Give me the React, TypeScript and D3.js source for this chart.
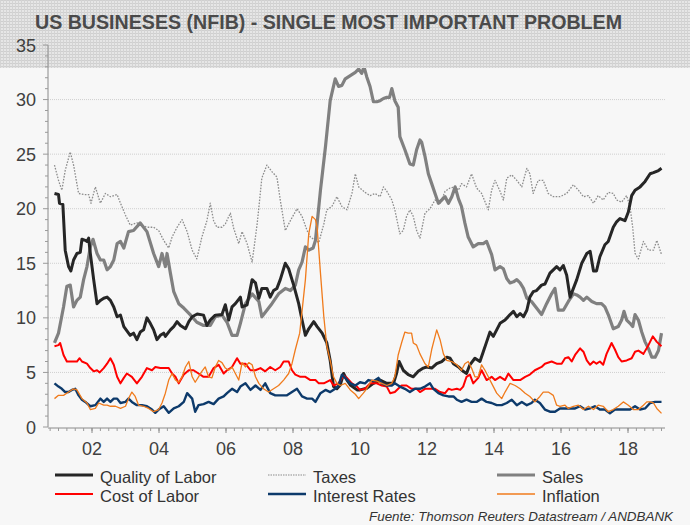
import React from "react";
import * as d3 from "d3";

type P = [number, number];

const qualityOfLabor: P[] = [
  [2000.88, 21.4], [2001.0, 21.3], [2001.03, 20.5], [2001.13, 20.4], [2001.2, 16.2], [2001.3, 14.7], [2001.37, 14.3],
  [2001.45, 15.3], [2001.55, 15.9], [2001.65, 16.0], [2001.7, 17.2], [2001.8, 17.1], [2001.85, 17.0], [2001.9, 17.3],
  [2001.95, 15.9], [2002.05, 13.5], [2002.15, 11.3], [2002.25, 11.6], [2002.35, 11.8], [2002.45, 11.9], [2002.55, 11.6],
  [2002.65, 11.0], [2002.75, 10.1], [2002.85, 10.25], [2002.95, 9.2], [2003.14, 8.4], [2003.24, 8.6], [2003.34, 8.0],
  [2003.44, 8.7], [2003.54, 8.9], [2003.64, 10.0], [2003.74, 9.5], [2003.84, 8.9], [2003.94, 8.0], [2004.04, 8.4],
  [2004.14, 8.6], [2004.19, 8.3], [2004.34, 8.9], [2004.44, 9.2], [2004.54, 9.65], [2004.64, 9.3], [2004.79, 9.0],
  [2004.89, 9.65], [2004.99, 10.1], [2005.14, 10.35], [2005.33, 10.25], [2005.43, 9.3], [2005.53, 9.8], [2005.68, 10.25],
  [2005.88, 10.3], [2005.98, 11.2], [2006.08, 9.8], [2006.18, 11.0], [2006.28, 11.3], [2006.43, 11.9], [2006.48, 11.0],
  [2006.63, 11.2], [2006.78, 13.5], [2006.88, 13.2], [2006.98, 11.8], [2007.07, 12.7], [2007.22, 12.7], [2007.32, 11.9],
  [2007.42, 12.5], [2007.52, 12.7], [2007.62, 13.5], [2007.77, 15.0], [2007.87, 14.5], [2008.02, 13.0], [2008.17, 11.3],
  [2008.27, 9.8], [2008.37, 8.4], [2008.47, 9.0], [2008.62, 9.65], [2008.72, 9.2], [2008.87, 8.6], [2009.01, 7.7],
  [2009.11, 6.1], [2009.21, 3.7], [2009.31, 3.5], [2009.41, 3.85], [2009.51, 4.9], [2009.61, 4.3], [2009.71, 3.85],
  [2009.91, 3.4], [2010.0, 3.4], [2010.2, 3.55], [2010.4, 4.0], [2010.6, 4.3], [2010.8, 4.0], [2011.0, 4.0],
  [2011.09, 4.9], [2011.17, 6.0], [2011.29, 5.2], [2011.44, 4.8], [2011.59, 4.6], [2011.74, 5.1], [2011.89, 5.4],
  [2011.99, 5.5], [2012.14, 5.4], [2012.29, 5.8], [2012.44, 6.0], [2012.59, 6.4], [2012.69, 6.3], [2012.79, 5.8],
  [2012.94, 5.5], [2013.08, 5.1], [2013.18, 4.9], [2013.28, 5.7], [2013.43, 6.3], [2013.58, 6.0], [2013.68, 6.9],
  [2013.78, 7.8], [2013.88, 8.7], [2013.98, 8.3], [2014.08, 8.9], [2014.18, 9.5], [2014.33, 9.8], [2014.48, 10.3],
  [2014.58, 10.6], [2014.68, 10.1], [2014.78, 10.4], [2014.88, 10.1], [2014.98, 10.7], [2015.07, 11.9], [2015.17, 12.4],
  [2015.27, 12.5], [2015.42, 13.0], [2015.52, 13.1], [2015.67, 14.1], [2015.77, 14.4], [2015.87, 14.7], [2015.97, 14.4],
  [2016.07, 14.8], [2016.17, 13.9], [2016.27, 11.9], [2016.47, 13.5], [2016.62, 15.0], [2016.77, 15.9], [2016.87, 16.1],
  [2016.97, 14.3], [2017.06, 14.3], [2017.16, 15.6], [2017.31, 16.7], [2017.41, 17.0], [2017.56, 18.3], [2017.66, 18.8],
  [2017.76, 19.1], [2017.91, 18.9], [2018.01, 19.7], [2018.11, 21.2], [2018.21, 21.7], [2018.36, 22.0], [2018.51, 22.5],
  [2018.66, 23.2], [2018.76, 23.3], [2018.91, 23.5], [2019.0, 23.7],
];

const taxes: P[] = [
  [2000.88, 24.0], [2001.0, 22.6], [2001.1, 21.7], [2001.2, 23.5], [2001.35, 25.2], [2001.45, 24.0], [2001.6, 21.4],
  [2001.75, 21.3], [2001.9, 21.3], [2001.97, 20.5], [2002.1, 22.0], [2002.25, 20.5], [2002.4, 21.4], [2002.55, 21.1],
  [2002.75, 21.3], [2002.85, 20.5], [2003.0, 19.4], [2003.14, 18.5], [2003.34, 18.7], [2003.49, 18.5], [2003.64, 18.3],
  [2003.84, 18.3], [2003.99, 18.0], [2004.14, 17.1], [2004.29, 16.4], [2004.39, 17.4], [2004.54, 18.3], [2004.69, 19.0],
  [2004.84, 17.9], [2004.99, 16.2], [2005.13, 15.4], [2005.28, 17.4], [2005.43, 18.9], [2005.53, 20.5], [2005.63, 18.9],
  [2005.73, 18.3], [2005.88, 18.3], [2005.98, 18.6], [2006.13, 19.6], [2006.23, 18.2], [2006.38, 16.8], [2006.48, 17.9],
  [2006.63, 16.8], [2006.78, 15.1], [2006.93, 18.6], [2007.07, 22.8], [2007.22, 24.0], [2007.37, 23.4], [2007.52, 22.9],
  [2007.62, 20.8], [2007.77, 18.0], [2007.92, 18.9], [2008.12, 20.0], [2008.27, 19.3], [2008.42, 18.0], [2008.52, 17.4],
  [2008.67, 17.1], [2008.77, 16.9], [2008.92, 18.6], [2009.01, 19.9], [2009.16, 20.2], [2009.31, 21.1], [2009.46, 20.2],
  [2009.61, 19.9], [2009.76, 21.4], [2009.86, 23.2], [2009.96, 22.0], [2010.15, 21.5], [2010.3, 21.2], [2010.45, 21.4],
  [2010.6, 21.1], [2010.7, 22.0], [2010.8, 21.6], [2010.95, 20.8], [2011.04, 19.9], [2011.19, 17.7], [2011.29, 18.0],
  [2011.39, 19.3], [2011.49, 19.9], [2011.59, 19.3], [2011.69, 18.0], [2011.79, 17.3], [2011.94, 19.6], [2012.09, 20.0],
  [2012.24, 20.8], [2012.39, 20.5], [2012.54, 21.6], [2012.69, 21.9], [2012.84, 22.0], [2012.94, 21.7], [2013.03, 22.3],
  [2013.18, 22.0], [2013.33, 23.2], [2013.48, 21.9], [2013.63, 21.4], [2013.83, 19.9], [2013.93, 21.7], [2014.03, 22.6],
  [2014.18, 21.6], [2014.28, 20.8], [2014.38, 22.8], [2014.53, 23.1], [2014.68, 22.6], [2014.83, 22.0], [2014.98, 23.7],
  [2015.07, 23.2], [2015.17, 21.4], [2015.32, 22.6], [2015.47, 22.6], [2015.62, 21.4], [2015.77, 21.1], [2015.97, 21.1],
  [2016.17, 21.4], [2016.37, 22.2], [2016.52, 21.7], [2016.67, 21.1], [2016.82, 21.2], [2016.97, 20.5], [2017.11, 21.2],
  [2017.26, 20.8], [2017.41, 21.5], [2017.56, 21.4], [2017.66, 20.8], [2017.81, 20.6], [2017.96, 21.2], [2018.06, 20.2],
  [2018.14, 18.3], [2018.21, 15.9], [2018.31, 15.4], [2018.46, 17.0], [2018.61, 16.2], [2018.76, 16.2], [2018.86, 17.1],
  [2019.0, 15.8],
];

const sales: P[] = [
  [2000.88, 7.7], [2001.0, 8.6], [2001.15, 11.0], [2001.25, 12.9], [2001.35, 13.0], [2001.45, 11.0], [2001.55, 11.6],
  [2001.65, 11.9], [2001.75, 13.5], [2001.85, 14.7], [2001.95, 16.5], [2002.03, 17.2], [2002.15, 15.9], [2002.25, 15.3],
  [2002.35, 15.3], [2002.45, 14.4], [2002.55, 14.7], [2002.65, 15.3], [2002.75, 16.8], [2002.85, 17.0], [2002.95, 16.4],
  [2003.09, 17.9], [2003.24, 18.0], [2003.44, 18.7], [2003.64, 17.9], [2003.84, 15.9], [2003.99, 14.7], [2004.09, 15.9],
  [2004.19, 14.7], [2004.24, 15.9], [2004.34, 14.1], [2004.44, 12.4], [2004.59, 11.3], [2004.74, 10.9], [2004.93, 10.3],
  [2005.13, 9.6], [2005.33, 9.3], [2005.53, 9.3], [2005.68, 10.1], [2005.88, 10.25], [2006.03, 9.6], [2006.18, 8.4],
  [2006.33, 8.4], [2006.43, 9.5], [2006.58, 11.3], [2006.78, 12.2], [2006.98, 11.5], [2007.07, 10.1], [2007.22, 10.7],
  [2007.37, 11.3], [2007.57, 12.2], [2007.77, 12.7], [2007.92, 12.5], [2008.07, 13.0], [2008.17, 14.4], [2008.27, 15.1],
  [2008.37, 16.5], [2008.47, 16.2], [2008.6, 16.4], [2008.67, 17.1], [2008.82, 21.7], [2008.97, 25.7], [2009.11, 29.9],
  [2009.26, 31.9], [2009.36, 31.2], [2009.46, 31.3], [2009.56, 31.9], [2009.71, 32.2], [2009.86, 32.5], [2009.96, 32.8],
  [2010.05, 32.4], [2010.12, 33.0], [2010.2, 32.1], [2010.3, 31.2], [2010.4, 29.8], [2010.5, 29.8], [2010.6, 29.9],
  [2010.7, 30.1], [2010.8, 30.2], [2010.88, 30.2], [2010.95, 31.0], [2011.04, 29.9], [2011.14, 29.3], [2011.19, 26.6],
  [2011.34, 25.4], [2011.49, 24.1], [2011.59, 24.0], [2011.69, 25.4], [2011.79, 26.3], [2011.84, 26.1], [2011.94, 24.8],
  [2012.04, 23.2], [2012.14, 22.3], [2012.24, 21.4], [2012.34, 20.5], [2012.44, 20.8], [2012.54, 21.1], [2012.64, 20.5],
  [2012.74, 21.1], [2012.84, 22.0], [2012.94, 20.9], [2013.03, 20.2], [2013.13, 18.7], [2013.23, 17.4], [2013.38, 16.5],
  [2013.53, 16.8], [2013.68, 16.8], [2013.78, 17.0], [2013.93, 15.8], [2014.03, 14.4], [2014.18, 14.7], [2014.28, 14.5],
  [2014.38, 13.6], [2014.48, 13.2], [2014.58, 13.3], [2014.68, 13.5], [2014.78, 13.2], [2014.88, 12.7], [2014.98, 11.8],
  [2015.12, 11.5], [2015.27, 10.9], [2015.42, 10.3], [2015.57, 11.3], [2015.72, 12.2], [2015.82, 12.7], [2015.92, 10.7],
  [2016.07, 10.7], [2016.22, 11.5], [2016.37, 12.2], [2016.47, 12.1], [2016.57, 11.9], [2016.67, 11.6], [2016.77, 11.9],
  [2016.92, 11.5], [2017.06, 11.3], [2017.21, 11.3], [2017.31, 11.0], [2017.41, 10.3], [2017.56, 9.0], [2017.71, 9.2],
  [2017.81, 9.8], [2017.88, 10.6], [2017.96, 9.8], [2018.06, 9.5], [2018.14, 9.2], [2018.21, 10.3], [2018.31, 9.8],
  [2018.41, 8.7], [2018.51, 7.8], [2018.61, 7.2], [2018.71, 6.4], [2018.81, 6.4], [2018.91, 7.0], [2019.0, 8.6],
];

const costOfLabor: P[] = [
  [2000.88, 7.4], [2001.0, 7.5], [2001.05, 7.7], [2001.15, 6.6], [2001.25, 6.0], [2001.4, 6.0], [2001.55, 6.0],
  [2001.63, 6.3], [2001.7, 6.0], [2001.85, 5.8], [2001.95, 5.4], [2002.05, 5.1], [2002.15, 5.2], [2002.23, 5.0],
  [2002.35, 5.4], [2002.45, 5.8], [2002.55, 6.3], [2002.65, 5.7], [2002.75, 4.6], [2002.85, 4.0], [2002.95, 4.5],
  [2003.04, 4.9], [2003.19, 4.6], [2003.34, 4.0], [2003.49, 4.6], [2003.64, 5.4], [2003.79, 5.2], [2003.89, 5.5],
  [2004.04, 5.4], [2004.19, 5.4], [2004.29, 5.4], [2004.39, 4.9], [2004.49, 4.6], [2004.59, 4.0], [2004.74, 4.8],
  [2004.89, 5.2], [2005.03, 5.2], [2005.18, 4.9], [2005.33, 4.6], [2005.48, 4.6], [2005.63, 5.4], [2005.78, 5.7],
  [2005.93, 4.9], [2006.03, 5.2], [2006.18, 5.5], [2006.33, 6.3], [2006.43, 5.8], [2006.58, 5.8], [2006.73, 5.2],
  [2006.88, 5.2], [2007.03, 5.4], [2007.17, 5.1], [2007.32, 5.5], [2007.47, 5.2], [2007.62, 5.5], [2007.72, 6.0],
  [2007.87, 6.0], [2007.97, 5.2], [2008.07, 4.8], [2008.22, 4.6], [2008.37, 4.6], [2008.52, 4.3], [2008.67, 4.3],
  [2008.77, 4.0], [2008.92, 4.0], [2009.11, 4.3], [2009.21, 3.8], [2009.36, 4.0], [2009.51, 4.7], [2009.61, 4.5],
  [2009.76, 4.0], [2009.91, 3.7], [2010.0, 3.4], [2010.15, 3.5], [2010.3, 4.0], [2010.5, 4.0], [2010.65, 3.8],
  [2010.8, 3.7], [2010.9, 3.1], [2011.04, 3.2], [2011.14, 3.5], [2011.24, 3.8], [2011.39, 3.8], [2011.54, 3.5],
  [2011.69, 3.5], [2011.79, 3.2], [2011.94, 3.5], [2012.09, 3.5], [2012.24, 3.5], [2012.39, 3.2], [2012.54, 3.1],
  [2012.64, 3.5], [2012.74, 3.4], [2012.89, 3.5], [2012.99, 3.4], [2013.08, 3.7], [2013.18, 4.6], [2013.28, 4.8],
  [2013.38, 4.0], [2013.53, 4.5], [2013.63, 5.2], [2013.78, 4.3], [2013.93, 4.6], [2014.03, 4.3], [2014.18, 4.6],
  [2014.33, 4.3], [2014.43, 4.9], [2014.58, 4.3], [2014.78, 4.3], [2014.93, 4.6], [2015.07, 4.8], [2015.22, 5.2],
  [2015.42, 5.5], [2015.52, 5.8], [2015.72, 6.0], [2015.87, 5.8], [2016.02, 5.8], [2016.12, 6.3], [2016.22, 6.4],
  [2016.32, 6.0], [2016.42, 6.6], [2016.57, 7.2], [2016.67, 6.9], [2016.77, 6.1], [2016.87, 5.7], [2016.97, 6.0],
  [2017.06, 5.8], [2017.16, 6.0], [2017.26, 5.7], [2017.36, 6.7], [2017.51, 7.7], [2017.61, 7.1], [2017.71, 6.4],
  [2017.81, 6.0], [2017.96, 6.1], [2018.11, 6.3], [2018.21, 6.9], [2018.31, 7.0], [2018.46, 6.7], [2018.61, 7.5],
  [2018.74, 8.3], [2018.86, 7.8], [2019.0, 7.4],
];

const interestRates: P[] = [
  [2000.88, 4.0], [2001.0, 3.7], [2001.1, 3.5], [2001.2, 3.2], [2001.3, 3.2], [2001.4, 3.4], [2001.5, 3.5],
  [2001.6, 2.9], [2001.7, 2.5], [2001.8, 2.3], [2001.95, 1.9], [2002.1, 2.0], [2002.25, 2.6], [2002.35, 2.3],
  [2002.45, 2.6], [2002.55, 2.3], [2002.65, 2.6], [2002.75, 2.6], [2002.85, 2.2], [2003.0, 2.3], [2003.09, 2.6],
  [2003.19, 2.3], [2003.34, 2.0], [2003.49, 2.0], [2003.64, 1.9], [2003.79, 1.6], [2003.89, 1.3], [2003.99, 1.6],
  [2004.14, 1.9], [2004.29, 1.3], [2004.44, 1.7], [2004.59, 1.9], [2004.74, 2.3], [2004.84, 3.1], [2004.99, 2.6],
  [2005.08, 1.4], [2005.18, 2.0], [2005.33, 2.1], [2005.48, 2.3], [2005.63, 2.1], [2005.78, 2.6], [2005.93, 2.8],
  [2006.03, 3.1], [2006.18, 3.5], [2006.33, 3.2], [2006.43, 3.7], [2006.58, 4.0], [2006.73, 3.4], [2006.88, 3.8],
  [2007.03, 3.4], [2007.17, 4.0], [2007.32, 3.1], [2007.47, 2.9], [2007.62, 2.9], [2007.82, 2.9], [2007.97, 3.2],
  [2008.12, 3.5], [2008.27, 2.8], [2008.42, 2.6], [2008.57, 2.6], [2008.67, 2.3], [2008.82, 3.1], [2008.97, 3.4],
  [2009.11, 3.2], [2009.26, 3.5], [2009.36, 3.8], [2009.46, 4.8], [2009.56, 4.5], [2009.71, 4.0], [2009.86, 3.8],
  [2010.0, 4.1], [2010.15, 4.0], [2010.25, 4.3], [2010.4, 4.2], [2010.55, 4.5], [2010.65, 4.0], [2010.8, 3.8],
  [2010.95, 3.8], [2011.04, 4.0], [2011.19, 3.7], [2011.34, 3.5], [2011.49, 3.2], [2011.64, 3.5], [2011.79, 3.5],
  [2011.94, 3.7], [2012.09, 4.0], [2012.19, 3.5], [2012.34, 3.1], [2012.49, 2.9], [2012.64, 2.8], [2012.79, 2.8],
  [2012.89, 2.5], [2013.03, 2.3], [2013.18, 2.5], [2013.33, 2.3], [2013.48, 2.3], [2013.63, 2.6], [2013.78, 2.3],
  [2013.93, 2.2], [2014.08, 2.0], [2014.23, 2.0], [2014.38, 2.2], [2014.53, 2.5], [2014.68, 2.0], [2014.83, 2.3],
  [2014.98, 2.0], [2015.12, 2.2], [2015.22, 2.5], [2015.37, 2.2], [2015.52, 1.6], [2015.67, 1.4], [2015.82, 1.4],
  [2015.97, 1.7], [2016.12, 1.7], [2016.27, 1.7], [2016.42, 1.7], [2016.57, 1.9], [2016.72, 1.6], [2016.87, 1.7],
  [2017.01, 1.9], [2017.16, 1.6], [2017.31, 1.6], [2017.46, 1.25], [2017.61, 1.6], [2017.76, 1.6], [2017.91, 1.6],
  [2018.06, 1.6], [2018.21, 1.9], [2018.36, 1.6], [2018.51, 1.7], [2018.66, 2.2], [2018.81, 2.3], [2019.0, 2.3],
];

const inflation: P[] = [
  [2000.88, 2.6], [2001.0, 2.9], [2001.15, 2.9], [2001.3, 3.2], [2001.45, 3.5], [2001.55, 3.4], [2001.7, 2.6],
  [2001.85, 2.2], [2001.95, 1.6], [2002.1, 1.7], [2002.2, 2.2], [2002.35, 2.0], [2002.45, 2.0], [2002.55, 1.9],
  [2002.7, 1.9], [2002.85, 1.7], [2003.0, 1.9], [2003.09, 2.6], [2003.19, 3.2], [2003.29, 2.8], [2003.39, 2.0],
  [2003.54, 1.9], [2003.69, 1.7], [2003.84, 1.4], [2003.99, 1.6], [2004.09, 2.2], [2004.19, 3.1], [2004.29, 4.3],
  [2004.39, 4.9], [2004.49, 4.3], [2004.59, 4.1], [2004.69, 4.6], [2004.79, 5.5], [2004.89, 6.0], [2004.99, 4.6],
  [2005.08, 4.1], [2005.18, 4.6], [2005.28, 5.1], [2005.38, 5.5], [2005.48, 4.6], [2005.58, 4.5], [2005.68, 5.5],
  [2005.78, 6.1], [2005.88, 5.9], [2005.98, 5.4], [2006.08, 5.2], [2006.18, 5.5], [2006.28, 4.9], [2006.38, 4.3],
  [2006.48, 5.9], [2006.58, 5.5], [2006.68, 5.9], [2006.78, 5.7], [2006.88, 4.6], [2006.98, 4.0], [2007.12, 3.5],
  [2007.27, 3.2], [2007.42, 3.5], [2007.57, 3.8], [2007.72, 4.3], [2007.87, 4.9], [2007.97, 5.8], [2008.07, 7.1],
  [2008.2, 8.6], [2008.37, 13.5], [2008.47, 17.7], [2008.57, 19.3], [2008.67, 19.0], [2008.72, 18.3], [2008.82, 14.1],
  [2008.92, 10.1], [2009.01, 7.4], [2009.11, 6.1], [2009.21, 4.6], [2009.31, 4.0], [2009.41, 3.8], [2009.56, 4.0],
  [2009.71, 3.4], [2009.86, 3.0], [2009.96, 2.6], [2010.1, 3.1], [2010.2, 3.5], [2010.35, 4.3], [2010.5, 4.2],
  [2010.65, 4.0], [2010.8, 3.8], [2010.95, 4.0], [2011.04, 4.6], [2011.14, 6.6], [2011.24, 7.7], [2011.34, 8.7],
  [2011.44, 8.6], [2011.54, 8.6], [2011.59, 7.7], [2011.69, 7.5], [2011.79, 6.7], [2011.94, 5.8], [2012.04, 5.5],
  [2012.14, 7.1], [2012.24, 8.3], [2012.29, 8.9], [2012.39, 8.0], [2012.49, 6.7], [2012.59, 6.1], [2012.74, 6.0],
  [2012.89, 5.7], [2013.03, 5.2], [2013.13, 5.8], [2013.23, 6.0], [2013.33, 5.4], [2013.43, 4.6], [2013.53, 4.6],
  [2013.63, 5.7], [2013.73, 5.2], [2013.83, 4.6], [2013.93, 4.0], [2014.08, 3.1], [2014.23, 2.6], [2014.33, 3.2],
  [2014.48, 4.0], [2014.63, 3.8], [2014.78, 3.5], [2014.93, 3.1], [2015.07, 2.8], [2015.22, 2.3], [2015.37, 2.8],
  [2015.47, 3.2], [2015.62, 3.2], [2015.77, 2.9], [2015.87, 2.0], [2015.97, 1.9], [2016.12, 2.0], [2016.22, 1.7],
  [2016.37, 1.9], [2016.52, 2.0], [2016.67, 1.6], [2016.82, 1.9], [2016.97, 1.6], [2017.11, 2.0], [2017.26, 1.9],
  [2017.41, 1.4], [2017.56, 1.6], [2017.71, 1.9], [2017.86, 2.3], [2018.01, 2.0], [2018.16, 1.6], [2018.31, 1.6],
  [2018.46, 2.0], [2018.56, 2.3], [2018.66, 2.3], [2018.76, 2.2], [2018.86, 1.7], [2019.0, 1.25],
];

const yTicks = [0, 5, 10, 15, 20, 25, 30, 35];
const xTickYears = [2002, 2004, 2006, 2008, 2010, 2012, 2014, 2016, 2018];
const xTickLabels = ["02", "04", "06", "08", "10", "12", "14", "16", "18"];

const title = "US BUSINESES (NFIB) - SINGLE MOST IMPORTANT PROBLEM";
const source = "Fuente: Thomson Reuters Datastream / ANDBANK";

const seriesList = [
  { name: "Taxes", data: taxes, color: "#8c8c8c", width: 1.3, dash: "1.6,1.4" },
  { name: "Sales", data: sales, color: "#808080", width: 3.2, dash: "" },
  { name: "Quality of Labor", data: qualityOfLabor, color: "#262626", width: 3, dash: "" },
  { name: "Cost of Labor", data: costOfLabor, color: "#ff0000", width: 2, dash: "" },
  { name: "Interest Rates", data: interestRates, color: "#0d3a6b", width: 2.4, dash: "" },
  { name: "Inflation", data: inflation, color: "#f07b1c", width: 1.3, dash: "" },
];

const legendItems = [
  { name: "Quality of Labor", color: "#262626", width: 3, dash: "", col: 0, row: 0 },
  { name: "Taxes", color: "#8c8c8c", width: 1.2, dash: "1.5,1", col: 1, row: 0 },
  { name: "Sales", color: "#808080", width: 3, dash: "", col: 2, row: 0 },
  { name: "Cost of Labor", color: "#ff0000", width: 2, dash: "", col: 0, row: 1 },
  { name: "Interest Rates", color: "#0d3a6b", width: 2.4, dash: "", col: 1, row: 1 },
  { name: "Inflation", color: "#f07b1c", width: 1.5, dash: "", col: 2, row: 1 },
];

export default function App() {
  const W = 690;
  const H = 525;
  const x = d3.scaleLinear().domain([2002, 2018]).range([92, 628]);
  const y = d3.scaleLinear().domain([0, 35]).range([427, 45]);
  const xStart = 48;
  const xEnd = 665;
  const font = "'Liberation Sans', Arial, sans-serif";

  const line = d3
    .line<P>()
    .x((d) => x(d[0]))
    .y((d) => y(d[1]));

  const minorY = d3.range(0, 36, 1);
  const qStart = Math.ceil(x.invert(xStart) * 4) / 4;
  const minorX = d3.range(qStart, x.invert(xEnd), 0.25);

  const legendColX = [55, 268, 497];
  const legendTextX = [100, 313, 542];
  const legendRowY = [475, 494];

  return (
    <svg
      width={W}
      height={H}
      style={{ position: "absolute", left: 0, top: 0, display: "block" }}
      fontFamily={font}
    >
      <defs>
        <pattern id="hatch" width="3" height="3" patternUnits="userSpaceOnUse">
          <rect width="3" height="3" fill="#e6e6e6" />
          <rect width="3" height="1" fill="#cfcfcf" />
          <rect width="1" height="3" fill="#d4d4d4" />
        </pattern>
        <clipPath id="plotClip">
          <rect x={xStart} y={68} width={xEnd - xStart + 5} height={427 - 68 + 5} />
        </clipPath>
      </defs>
      <rect width={W} height={H} fill="#f7f7f7" />
      <rect x={0} y={0} width={W} height={68} fill="url(#hatch)" />
      <text
        x={35}
        y={28.5}
        fontSize={19.5}
        fontWeight="bold"
        fill="#4a4a4a"
        textLength={587}
        lengthAdjust="spacingAndGlyphs"
      >
        {title}
      </text>

      {/* gridlines */}
      {yTicks
        .filter((t) => t > 0 && t < 35)
        .map((t) => (
          <line
            key={"g" + t}
            x1={xStart}
            x2={xEnd}
            y1={y(t)}
            y2={y(t)}
            stroke="#cfcfcf"
            strokeWidth={1}
            strokeDasharray="1,1"
          />
        ))}

      {/* y axis */}
      <line x1={xStart} x2={xStart} y1={y(35)} y2={y(0)} stroke="#8a8a8a" strokeWidth={1} />
      {minorY.map((t) => (
        <line
          key={"my" + t}
          x1={xStart - (t % 5 === 0 ? 5 : 3)}
          x2={xStart}
          y1={y(t)}
          y2={y(t)}
          stroke="#9a9a9a"
          strokeWidth={1}
        />
      ))}
      {yTicks.map((t) => (
        <text key={"yl" + t} x={36} y={y(t) + 6.5} fontSize={18} fill="#404040" textAnchor="end">
          {t}
        </text>
      ))}

      {/* x axis */}
      <line x1={xStart} x2={xEnd} y1={428} y2={428} stroke="#8a8a8a" strokeWidth={1} />
      {minorX.map((t, i) => (
        <line key={"mx" + i} x1={x(t)} x2={x(t)} y1={428} y2={431} stroke="#9a9a9a" strokeWidth={1} />
      ))}
      {xTickYears.map((t) => (
        <line key={"Mx" + t} x1={x(t)} x2={x(t)} y1={428} y2={433} stroke="#8a8a8a" strokeWidth={1} />
      ))}
      {xTickYears.map((t, i) => (
        <text key={"xl" + t} x={x(t)} y={455} fontSize={18} fill="#404040" textAnchor="middle">
          {xTickLabels[i]}
        </text>
      ))}

      {/* series */}
      <g clipPath="url(#plotClip)">
        {seriesList.map((s) => (
          <path
            key={s.name}
            d={line(s.data) || ""}
            fill="none"
            stroke={s.color}
            strokeWidth={s.width}
            strokeDasharray={s.dash || undefined}
            strokeLinejoin="round"
          />
        ))}
      </g>

      {/* legend */}
      {legendItems.map((it) => (
        <g key={"lg" + it.name}>
          <line
            x1={legendColX[it.col]}
            x2={legendColX[it.col] + 38}
            y1={legendRowY[it.row]}
            y2={legendRowY[it.row]}
            stroke={it.color}
            strokeWidth={it.width}
            strokeDasharray={it.dash || undefined}
          />
          <text x={legendTextX[it.col]} y={legendRowY[it.row] + 7.5} fontSize={16.5} fill="#333">
            {it.name}
          </text>
        </g>
      ))}

      <text
        x={673}
        y={521}
        fontSize={13.5}
        fontStyle="italic"
        fill="#333"
        textAnchor="end"
        textLength={304}
        lengthAdjust="spacingAndGlyphs"
      >
        {source}
      </text>
    </svg>
  );
}
